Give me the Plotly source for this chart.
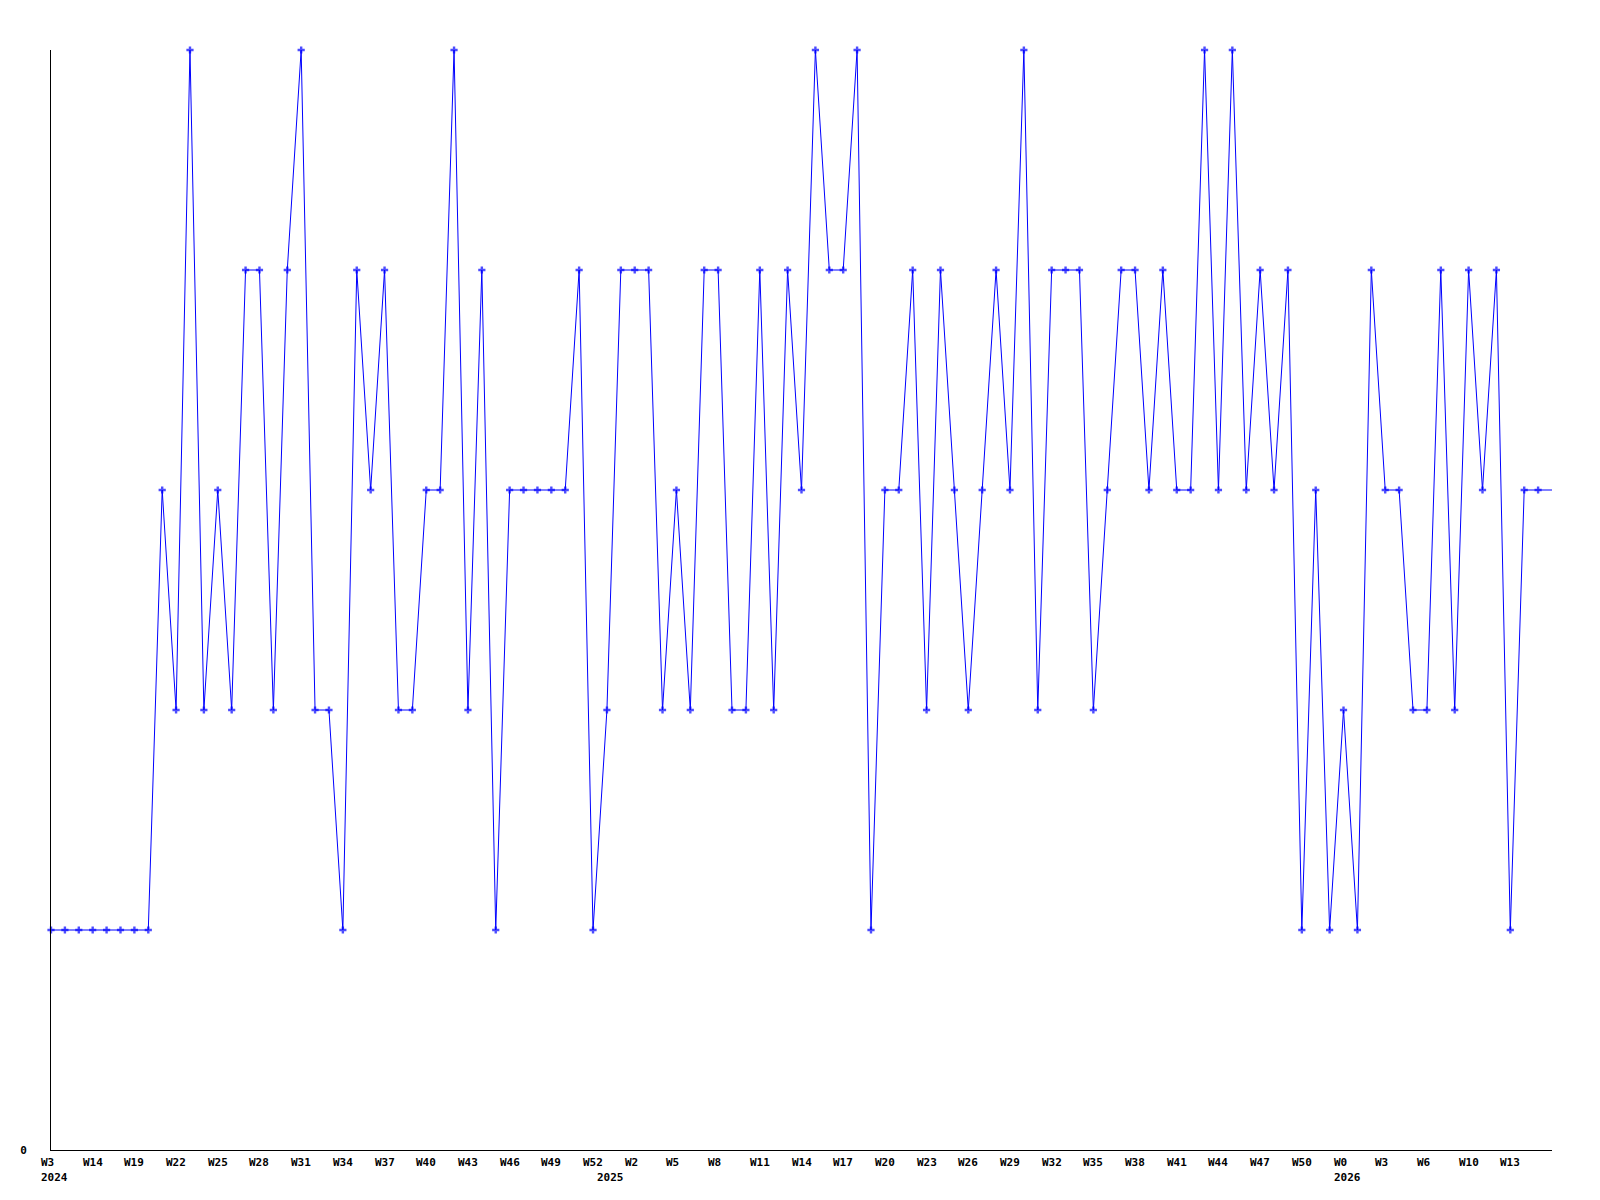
import plotly.graph_objects as go

# weekly counts, 2024 W3 .. 2026 W16
years = [2024] * 40 + [2025] * 53 + [2026] * 16
weeks = [3, 7, 10, 14, 16, 17, 19, 20, 21, 22, 23, 24, 25, 26, 27, 28, 29, 30, 31, 32,
         33, 34, 35, 36, 37, 38, 39, 40, 41, 42, 43, 44, 45, 46, 47, 48, 49, 50, 51, 52,
         0, 1, 2, 3, 4, 5, 6, 7, 8, 9, 10, 11, 12, 13, 14, 15, 16, 17, 18, 19,
         20, 21, 22, 23, 24, 25, 26, 27, 28, 29, 30, 31, 32, 33, 34, 35, 36, 37, 38, 39,
         40, 41, 42, 43, 44, 45, 46, 47, 48, 49, 50, 51, 52,
         0, 1, 2, 3, 4, 5, 6, 7, 9, 10, 11, 12, 13, 14, 15, 16]
values = [1, 1, 1, 1, 1, 1, 1, 1,
          3, 2, 5, 2, 3, 2, 4, 4, 2, 4, 5,
          2, 2, 1, 4, 3, 4, 2, 2, 3, 3, 5, 2, 4, 1, 3, 3, 3, 3, 3,
          4, 1, 2, 4, 4, 4, 2, 3, 2, 4, 4, 2, 2, 4, 2, 4, 3, 5, 4,
          4, 5, 1, 3, 3, 4, 2, 4, 3, 2, 3, 4, 3, 5, 2, 4, 4, 4, 2,
          3, 4, 4, 3, 4, 3, 3, 5, 3, 5, 3, 4, 3, 4, 1, 3, 1, 2,
          1, 4, 3, 3, 2, 2, 4, 2, 4, 3, 4, 1, 3, 3, 3]

cats = [f"{y}-W{w}" for y, w in zip(years, weeks)]
n = len(cats)
FONT = dict(family="DejaVu Sans Mono", size=11, color="black", weight="bold")

fig = go.Figure()
# last point sits on the right edge, drawn without a marker
sizes = [6] * (n - 1) + [0]
fig.add_trace(go.Scatter(x=cats, y=values, mode="lines+markers", cliponaxis=False,
                         line=dict(color="#0000ff", width=1),
                         marker=dict(symbol="cross", size=sizes, color="#0000ff",
                                     line=dict(width=0)),
                         showlegend=False))

# week labels every third point, left aligned like the original
for i in range(0, n - 1, 3):
    fig.add_annotation(x=cats[i], y=0, xref="x", yref="paper", text=f"W{weeks[i]}",
                       showarrow=False, xanchor="left", yanchor="top",
                       xshift=-12, yshift=-4, font=FONT)
# year labels where year starts
for i in range(n):
    if i == 0 or years[i] != years[i - 1]:
        fig.add_annotation(x=cats[i], y=0, xref="x", yref="paper", text=str(years[i]),
                           showarrow=False, xanchor="left", yanchor="top",
                           xshift=-12, yshift=-19, font=FONT)

fig.update_xaxes(type="category", range=[0, n - 1], showline=True, linecolor="black",
                 linewidth=1, showgrid=False, zeroline=False, showticklabels=False,
                 ticks="")
fig.update_yaxes(range=[0, 5], showline=True, linecolor="black", linewidth=1,
                 showgrid=False, zeroline=False, tickvals=[0], ticktext=["0"],
                 ticks="", tickfont=FONT, ticklabelstandoff=21)
fig.update_layout(width=1600, height=1200, plot_bgcolor="white", paper_bgcolor="white",
                  margin=dict(l=43, r=56, t=42, b=58))

fig.write_html("out.html")
